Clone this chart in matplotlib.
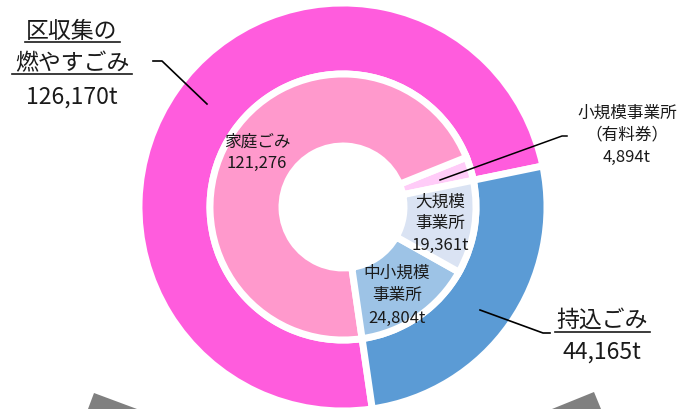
import matplotlib
matplotlib.use("Agg")
import matplotlib.pyplot as plt
from matplotlib.patches import Polygon

plt.rcParams['font.family'] = ['Noto Sans CJK JP', 'DejaVu Sans']

# data (t)
outer_labels = ["区収集の燃やすごみ", "持込ごみ"]
outer_values = [126170, 44165]
outer_colors = ["#FF5CDD", "#5B9BD5"]

inner_labels = ["小規模事業所（有料券）", "家庭ごみ", "中小規模事業所", "大規模事業所"]
inner_values = [4894, 121276, 24804, 19361]
inner_colors = ["#FFCCF8", "#FF99CC", "#9DC3E6", "#DAE3F3"]

H = 409
def Y(y):
    # image row -> data y
    return H - y

fig = plt.figure(figsize=(6.81, 4.09), dpi=100)
ax = fig.add_axes([0, 0, 1, 1])

cx, cy = 343, Y(207)
start = 11.6

ax.pie(outer_values, colors=outer_colors, startangle=start, counterclock=True,
       radius=204, center=(cx, cy),
       wedgeprops=dict(width=71, edgecolor="white", linewidth=5))
ax.pie(inner_values, colors=inner_colors, startangle=start, counterclock=True,
       radius=133, center=(cx, cy),
       wedgeprops=dict(width=72, edgecolor="white", linewidth=5))

ax.set_xlim(0, 681)
ax.set_ylim(0, H)
ax.set_aspect("equal")
ax.axis("off")

txt = "#1a1a1a"
big = 16.5
small = 12

# 区収集の燃やすごみ
ax.text(72, Y(32), "区収集の", fontsize=big, ha="center", va="center", color=txt)
ax.text(72, Y(64), "燃やすごみ", fontsize=big, ha="center", va="center", color=txt)
ax.text(72, Y(97), f"{outer_values[0]:,}t", fontsize=big, ha="center", va="center", color=txt)
ax.plot([25, 120], [Y(42), Y(42)], color=txt, lw=1.2)
ax.plot([12, 132], [Y(74), Y(74)], color=txt, lw=1.2)
ax.plot([153, 162, 207], [Y(61), Y(61), Y(104)], color="black", lw=1.2)

# 持込ごみ
ax.text(602, Y(320), "持込ごみ", fontsize=big, ha="center", va="center", color=txt)
ax.text(602, Y(352), f"{outer_values[1]:,}t", fontsize=big, ha="center", va="center", color=txt)
ax.plot([555, 650], [Y(332), Y(332)], color=txt, lw=1.2)
ax.plot([480, 543, 550], [Y(310), Y(333), Y(333)], color="black", lw=1.2)

# 小規模事業所（有料券）
ax.text(627, Y(113), "小規模事業所", fontsize=small, ha="center", va="center", color=txt)
ax.text(627, Y(135), "（有料券）", fontsize=small, ha="center", va="center", color=txt)
ax.text(627, Y(157), f"{inner_values[0]:,}t", fontsize=small, ha="center", va="center", color=txt)
ax.plot([440, 562, 567], [Y(180), Y(136), Y(136)], color="black", lw=1.1)

# 家庭ごみ
ax.text(257, Y(142), "家庭ごみ", fontsize=small, ha="center", va="center", color=txt)
ax.text(257, Y(163), f"{inner_values[1]:,}", fontsize=small, ha="center", va="center", color=txt)

# 中小規模事業所
ax.text(397, Y(273), "中小規模", fontsize=small, ha="center", va="center", color=txt)
ax.text(397, Y(295), "事業所", fontsize=small, ha="center", va="center", color=txt)
ax.text(397, Y(318), f"{inner_values[2]:,}t", fontsize=small, ha="center", va="center", color=txt)

# 大規模事業所
ax.text(440, Y(202), "大規模", fontsize=small, ha="center", va="center", color=txt)
ax.text(440, Y(223), "事業所", fontsize=small, ha="center", va="center", color=txt)
ax.text(440, Y(245), f"{inner_values[3]:,}t", fontsize=small, ha="center", va="center", color=txt)

# gray arrow tips at the bottom edge
ax.add_patch(Polygon([(88, Y(409)), (94, Y(393)), (137, Y(409))], closed=True,
                     color="#808080", lw=0))
ax.add_patch(Polygon([(552, Y(409)), (594, Y(392)), (601, Y(409))], closed=True,
                     color="#808080", lw=0))

fig.savefig("out.png", dpi=100)
